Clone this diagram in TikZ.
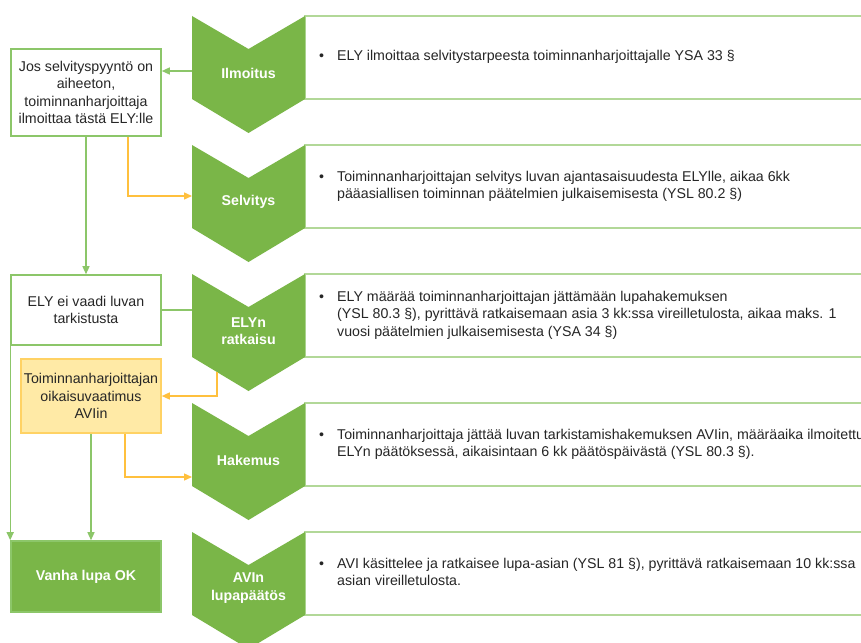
\documentclass[tikz,border=0pt]{standalone}
\usepackage{fontspec}
\setmainfont{Liberation Sans}
\usetikzlibrary{arrows.meta}
\definecolor{chev}{RGB}{122,182,72}
\definecolor{boxline}{RGB}{140,198,105}
\definecolor{panelline}{RGB}{178,216,152}
\definecolor{conn}{RGB}{140,198,105}
\definecolor{orng}{RGB}{255,192,62}
\definecolor{yfill}{RGB}{255,234,166}
\definecolor{yline}{RGB}{255,210,100}
\definecolor{txt}{RGB}{38,38,38}
\newcommand\mychev[1]{\fill[chev] (192,#1) -- (248.5,#1+33) -- (305,#1) -- (305,#1+83) -- (248.5,#1+117) -- (192,#1+83) -- cycle;}
\newcommand\mypanel[1]{\draw[panel] (305,#1) rectangle (890,#1+83);}
\begin{document}
\begin{tikzpicture}[x=1pt,y=-1pt,
  every node/.style={font=\fontsize{14.2}{17.2}\selectfont, text=txt},
  chevlabel/.style={text=white, font=\fontsize{14.2}{17.2}\selectfont\bfseries, align=center, inner sep=0pt},
  panel/.style={draw=panelline, line width=1.6pt, fill=white},
  ptext/.style={anchor=west, inner sep=0pt},
  flowbox/.style={draw=boxline, line width=1.6pt, fill=white, align=center, inner sep=0pt, minimum width=150pt},
  gline/.style={draw=conn, line width=1.4pt},
  oline/.style={draw=orng, line width=1.4pt},
  arr/.style={-{Triangle[length=8pt,width=7pt]}}
]
\useasboundingbox (0,0) rectangle (861,642);
\clip (0,0) rectangle (861,642);
\fill[white] (0,0) rectangle (861,642);

% panels
\mypanel{16}
\mypanel{145}
\mypanel{274}
\mypanel{403}
\mypanel{532}

% chevrons
\mychev{16}
\mychev{145}
\mychev{274}
\mychev{403}
\mychev{532}

\node[chevlabel] (l1) at (248.5,73) {Ilmoitus};
\node[chevlabel] (l2) at (248.5,202) {Selvitys};
\node[chevlabel] (l3) at (248.5,331) {ELYn\\ratkaisu};
\node[chevlabel] (l4) at (248.5,460) {Hakemus};
\node[chevlabel] (l5) at (248.5,588) {AVIn\\lupapäätös};

% panel texts
\node[ptext] (p1) at (319,57.5) {\begin{tabular}{@{}p{18pt}@{}l@{}}•&ELY ilmoittaa selvitystarpeesta toiminnanharjoittajalle YSA 33 §\end{tabular}};
\node[ptext] (p2) at (319,186.5) {\begin{tabular}{@{}p{18pt}@{}l@{}}•&Toiminnanharjoittajan selvitys luvan ajantasaisuudesta ELYlle, aikaa 6kk\\&pääasiallisen toiminnan päätelmien julkaisemisesta (YSL 80.2 §)\end{tabular}};
\node[ptext] (p3) at (319,315.5) {\begin{tabular}{@{}p{18pt}@{}l@{}}•&ELY määrää toiminnanharjoittajan jättämään lupahakemuksen\\&(YSL 80.3 §), pyrittävä ratkaisemaan asia 3 kk:ssa vireilletulosta, aikaa maks. 1\\&vuosi päätelmien julkaisemisesta (YSA 34 §)\end{tabular}};
\node[ptext] (p4) at (319,444.5) {\begin{tabular}{@{}p{18pt}@{}l@{}}•&Toiminnanharjoittaja jättää luvan tarkistamishakemuksen AVIin, määräaika ilmoitettu\\&ELYn päätöksessä, aikaisintaan 6 kk päätöspäivästä (YSL 80.3 §).\end{tabular}};
\node[ptext] (p5) at (319,573.5) {\begin{tabular}{@{}p{18pt}@{}l@{}}•&AVI käsittelee ja ratkaisee lupa-asian (YSL 81 §), pyrittävä ratkaisemaan 10 kk:ssa\\&asian vireilletulosta.\end{tabular}};

% left boxes
\node[flowbox, minimum height=87pt] (boxA) at (86,92.5) {Jos selvityspyyntö on\\aiheeton,\\toiminnanharjoittaja\\ilmoittaa tästä ELY:lle};
\node[flowbox, minimum height=70pt] (boxB) at (86,310) {ELY ei vaadi luvan\\tarkistusta};
\node[flowbox, minimum width=140pt, minimum height=74pt, fill=yfill, draw=yline] (boxC) at (91,396) {Toiminnanharjoittajan\\oikaisuvaatimus\\AVIin};
\node[flowbox, minimum height=71pt, fill=chev, draw=boxline, text=white, font=\fontsize{14.2}{17.2}\selectfont\bfseries] (boxD) at (86,576.5) {Vanha lupa OK};

% connector points on chevrons
\coordinate (c1w) at (192,71);
\coordinate (c2w) at (192,196);
\coordinate (c3w) at (192,310);
\coordinate (c3s) at (217,372);
\coordinate (c4w) at (192,477);

% connectors
\draw[gline,arr] (c1w) -- (c1w -| boxA.east);
\draw[oline,arr] ([xshift=42pt]boxA.south) |- (c2w);
\draw[gline,arr] (boxA.south) -- (boxB.north);
\draw[gline] (c3w) -- (c3w -| boxB.east);
\draw[oline,arr] (c3s) |- (boxC.east);
\draw[gline,arr] (boxB.south west) -- (boxD.north west);
\draw[gline,arr] (boxC.south) -- (boxC.south |- boxD.north);
\draw[oline,arr] ([xshift=34pt]boxC.south) |- (c4w);
\end{tikzpicture}
\end{document}
